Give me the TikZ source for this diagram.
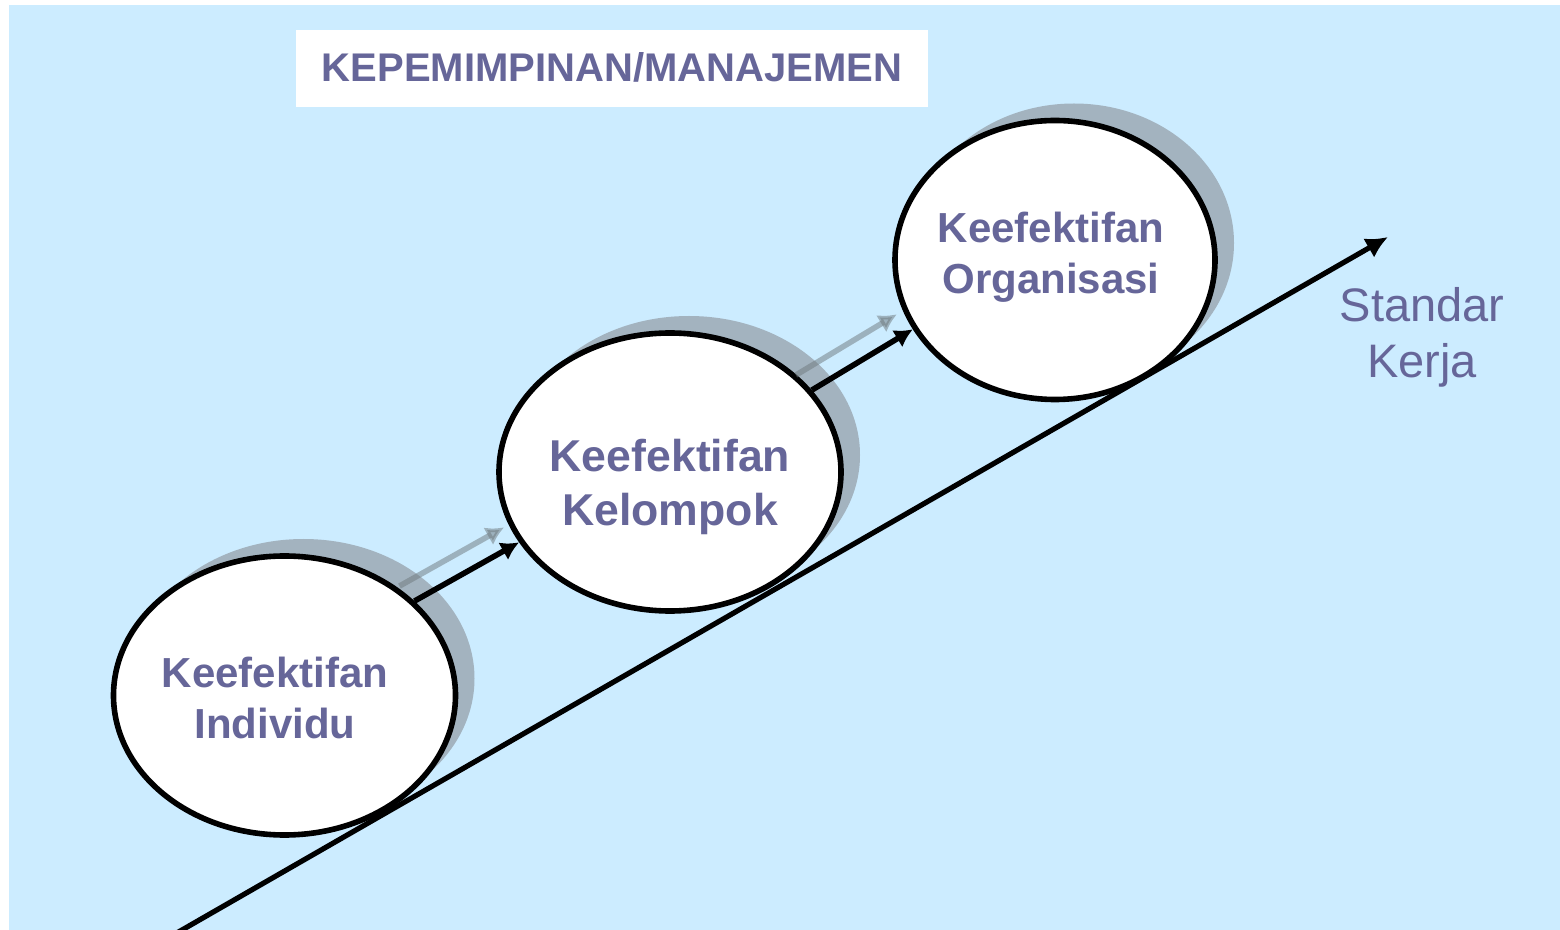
\documentclass[tikz,border=0pt]{standalone}
\usepackage{fontspec}
\setmainfont{Liberation Sans}
\usetikzlibrary{shapes.geometric,shadows,arrows.meta}
\definecolor{bgblue}{HTML}{CCECFF}
\definecolor{txtpurple}{HTML}{666699}
\definecolor{shade}{HTML}{A3B3BF}
\definecolor{ghostgray}{RGB}{110,120,125}

\begin{document}
\begin{tikzpicture}[x=0.5pt,y=-0.5pt,
  eff/.style={draw,ellipse,line width=2.8pt,fill=white,minimum width=171pt,
    minimum height=139.5pt,inner sep=0pt,
    drop shadow={shadow xshift=9.5pt,shadow yshift=8.5pt,fill=shade,opacity=1}},
  efftext/.style={align=center,text=txtpurple,inner sep=0pt,
    font=\fontsize{21}{25.5}\selectfont\bfseries},
  arr/.style={line width=2.8pt,-{Latex[length=9pt,width=10pt]}},
  ghost/.style={arr,draw=ghostgray,opacity=.5}]
  \useasboundingbox (0,0) rectangle (1560,930);
  \fill[bgblue] (9,5) rectangle (1560,930);

  \node[fill=white,minimum width=316pt,minimum height=38.5pt,text=txtpurple,
    font=\fontsize{20}{24}\selectfont\bfseries] (head) at (612,68.5)
    {\raisebox{1.5pt}{KEPEMIMPINAN/MANAJEMEN}};
  \node[anchor=north,inner sep=0pt,align=center,text=txtpurple,
    font=\fontsize{23.5}{28}\selectfont] (std) at (1422,287) {Standar\\Kerja};

  % standard line
  \coordinate (lo) at (175,934);
  \coordinate (hi) at (1388,237);
  \draw[line width=2.6pt,-{Latex[length=11pt,width=11pt]}] (lo) -- (hi);

  \node[eff] (ind) at (284.5,695.5) {};
  \node[eff,minimum height=139pt] (kel) at (670,472) {};
  \node[eff,minimum width=160pt] (org) at (1055,260) {};
  \node[efftext] (indtxt) at (275,697.5) {Keefektifan\\Individu};
  \node[efftext,font=\fontsize{22.3}{27}\selectfont\bfseries] (keltxt)
    at (670,486.5) {Keefektifan\\Kelompok};
  \node[efftext] (orgtxt) at (1051,257) {Keefektifan\\Organisasi};

  \draw[ghost] ([shift={(-15,-15)}]ind.36) -- ([shift={(-15,-15)}]kel.205);
  \draw[arr] (ind.36) -- (kel.205);
  \draw[ghost] ([shift={(-16,-15)}]kel.30) -- ([shift={(-16,-15)}]org.206);
  \draw[arr] (kel.30) -- (org.206);
\end{tikzpicture}
\end{document}
